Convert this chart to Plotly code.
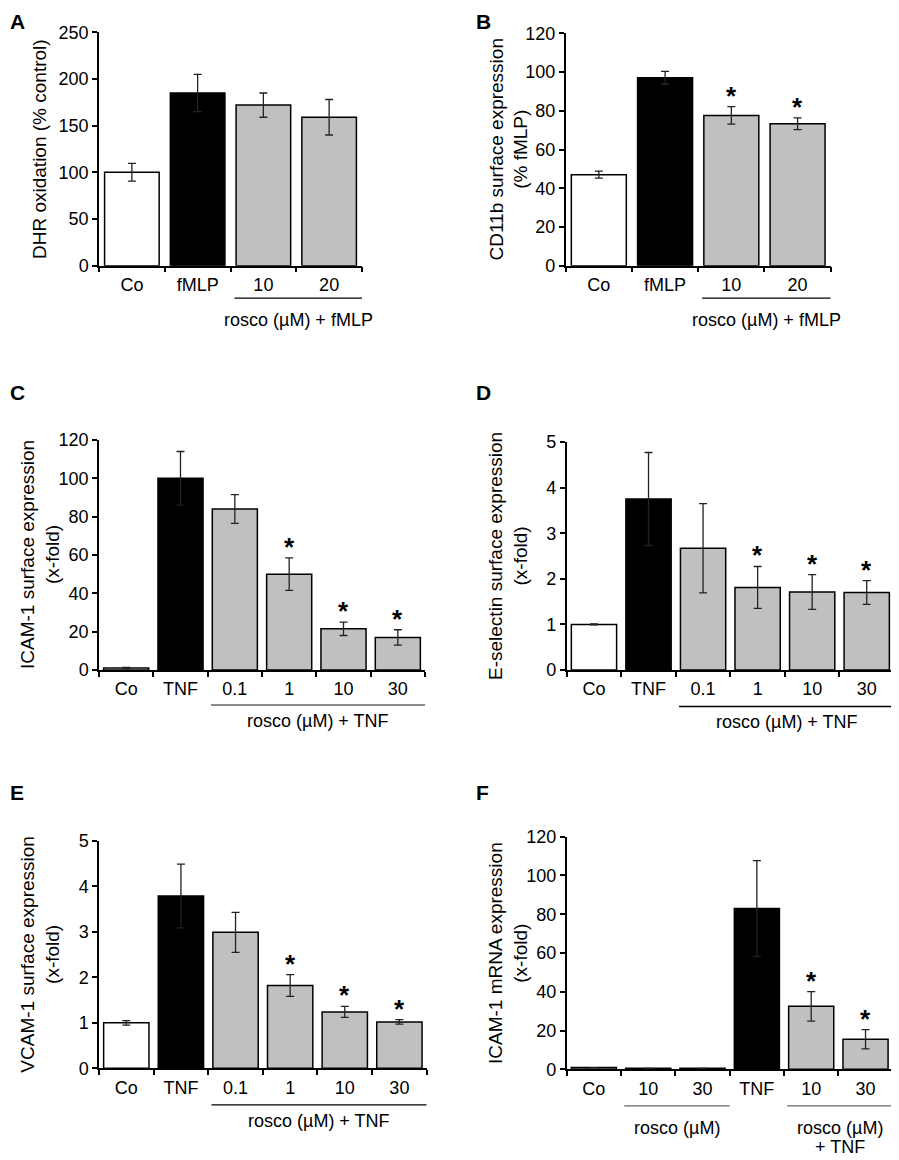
import plotly.graph_objects as go

# page is 899x1160; the html body has an 8px margin, so the figure is offset by it
PAGE_W, PAGE_H = 899, 1160
OFF = 8
W, H = PAGE_W - OFF, PAGE_H - OFF

# ---------------- data ----------------
A_labels = ["Co", "fMLP", "10", "20"]
A_values = [100, 185, 172, 159]
A_errors = [9.5, 20, 13, 19]
A_kinds = ["co", "stim", "treat", "treat"]
A_sig = [0, 0, 0, 0]

B_labels = ["Co", "fMLP", "10", "20"]
B_values = [47, 97, 77.6, 73.3]
B_errors = [1.8, 3.3, 4.5, 3.0]
B_kinds = ["co", "stim", "treat", "treat"]
B_sig = [0, 0, 1, 1]

C_labels = ["Co", "TNF", "0.1", "1", "10", "30"]
C_values = [1, 100, 84, 50, 21.5, 17]
C_errors = [0.3, 14, 7.5, 8.5, 3.5, 4]
C_kinds = ["co", "stim", "treat", "treat", "treat", "treat"]
C_sig = [0, 0, 0, 1, 1, 1]

D_labels = ["Co", "TNF", "0.1", "1", "10", "30"]
D_values = [1.0, 3.75, 2.67, 1.81, 1.71, 1.70]
D_errors = [0.01, 1.02, 0.98, 0.46, 0.38, 0.26]
D_kinds = ["co", "stim", "treat", "treat", "treat", "treat"]
D_sig = [0, 0, 0, 1, 1, 1]

E_labels = ["Co", "TNF", "0.1", "1", "10", "30"]
E_values = [1.0, 3.79, 2.99, 1.82, 1.24, 1.02]
E_errors = [0.05, 0.70, 0.44, 0.24, 0.12, 0.05]
E_kinds = ["co", "stim", "treat", "treat", "treat", "treat"]
E_sig = [0, 0, 0, 1, 1, 1]

F_labels = ["Co", "10", "30", "TNF", "10", "30"]
F_values = [0.9, 0.5, 0.5, 83, 32.5, 15.5]
F_errors = [0, 0, 0, 24.7, 7.6, 5]
F_kinds = ["co", "co", "co", "stim", "treat", "treat"]
F_sig = [0, 0, 0, 0, 1, 1]

A_title = "DHR oxidation (% control)"
B_title = "CD11b surface expression<br>(% fMLP)"
C_title = "ICAM-1 surface expression<br>(x-fold)"
D_title = "E-selectin surface expression<br>(x-fold)"
E_title = "VCAM-1 surface expression<br>(x-fold)"
F_title = "ICAM-1 mRNA expression<br>(x-fold)"

A_groups = [(2, 3, ["rosco (µM) + fMLP"])]
B_groups = [(2, 3, ["rosco (µM) + fMLP"])]
C_groups = [(2, 5, ["rosco (µM) + TNF"])]
D_groups = [(2, 5, ["rosco (µM) + TNF"])]
E_groups = [(2, 5, ["rosco (µM) + TNF"])]
F_groups = [(1, 2, ["rosco (µM)"]), (4, 5, ["rosco (µM)", "+ TNF"])]

# ---------------- styling / layout ----------------
FONT = "Liberation Sans, Arial, Helvetica, sans-serif"
KIND_COLOR = {"co": "white", "stim": "black", "treat": "#c0c0c0"}


def px_x(p):
    return (p - OFF) / W


def px_y(p):
    return 1 - (p - OFF) / H


panels = [
    ("A", A_labels, A_values, A_errors, A_kinds, A_sig, A_title, A_groups, 250, 50,
     (99, 362), (32.3, 265.7), 39, (4, 14), 32.5, 22, "black"),
    ("B", B_labels, B_values, B_errors, B_kinds, B_sig, B_title, B_groups, 120, 20,
     (565.7, 830.7), (33.3, 265.7), 508, (470, 14), 32.5, 22, "black"),
    ("C", C_labels, C_values, C_errors, C_kinds, C_sig, C_title, C_groups, 120, 20,
     (99, 425), (440, 670), 40, (4, 393), 35, 16, "#666666"),
    ("D", D_labels, D_values, D_errors, D_kinds, D_sig, D_title, D_groups, 5, 1,
     (566.7, 894), (442, 670), 508, (470, 393), 36.5, 15.5, "black"),
    ("E", E_labels, E_values, E_errors, E_kinds, E_sig, E_title, E_groups, 5, 1,
     (99, 426.7), (841, 1068.3), 40, (4, 792), 36.5, 16.5, "black"),
    ("F", F_labels, F_values, F_errors, F_kinds, F_sig, F_title, F_groups, 120, 20,
     (566.7, 892.7), (836.7, 1069.3), 508, (470, 792), 36.5, 22, "#666666"),
]

fig = go.Figure()
annotations = []
shapes = []

for k, (letter, labels, values, errors, kinds, sig, title, groups, ymax, dtick,
        xpx, ypx, tpx, lpx, uoff, loff, lcol) in enumerate(panels):
    n = len(labels)
    idx = k + 1
    xa = "x" if idx == 1 else f"x{idx}"
    ya = "y" if idx == 1 else f"y{idx}"
    xkey = "xaxis" if idx == 1 else f"xaxis{idx}"
    ykey = "yaxis" if idx == 1 else f"yaxis{idx}"
    xs = list(range(n))
    fig.add_trace(go.Bar(
        x=xs, y=values,
        marker=dict(color=[KIND_COLOR[c] for c in kinds],
                    line=dict(color="black", width=1.5)),
        error_y=dict(type="data", array=errors, visible=True,
                     color="#222222", thickness=1.3, width=4),
        xaxis=xa, yaxis=ya, showlegend=False, hoverinfo="skip",
    ))
    fig.layout[xkey] = dict(
        domain=[px_x(xpx[0]), px_x(xpx[1])],
        range=[-0.5, n - 0.5], anchor=ya, automargin=False,
        showline=True, linecolor="black", linewidth=1.5,
        showgrid=False, zeroline=False,
        tickmode="array", tickvals=xs, ticktext=labels, ticks="",
        ticklabelstandoff=2,
        tickfont=dict(family=FONT, size=18, color="black"),
        minor=dict(tickmode="array", tickvals=[i - 0.5 for i in range(n + 1)],
                   ticks="outside", ticklen=5, tickwidth=1.5, tickcolor="black",
                   showgrid=False),
        fixedrange=True,
    )
    fig.layout[ykey] = dict(
        domain=[px_y(ypx[1]), px_y(ypx[0])],
        range=[0, ymax], anchor=xa, automargin=False,
        showline=True, linecolor="black", linewidth=1.5,
        showgrid=False, zeroline=False,
        tickmode="linear", tick0=0, dtick=dtick,
        ticks="outside", ticklen=5, tickwidth=1.5, tickcolor="black",
        tickfont=dict(family=FONT, size=18, color="black"),
        fixedrange=True,
    )
    annotations.append(dict(
        text=title, textangle=-90, xref="paper", yref="paper",
        x=px_x(tpx), y=px_y((ypx[0] + ypx[1]) / 2),
        xanchor="center", yanchor="middle", showarrow=False,
        font=dict(family=FONT, size=19, color="black"),
    ))
    if lpx[1] < 30:
        ltxt = dict(y=1.0, yanchor="top")
    else:
        ltxt = dict(y=px_y(lpx[1]), yanchor="middle")
    annotations.append(dict(
        text=f"<b>{letter}</b>", xref="paper", yref="paper",
        x=px_x(lpx[0] + 4), xanchor="left",
        showarrow=False, font=dict(family=FONT, size=21, color="black"), **ltxt,
    ))
    for i in range(n):
        if sig[i]:
            annotations.append(dict(
                text="<b>*</b>", xref=xa, yref=ya,
                x=xs[i], y=values[i] + errors[i],
                xanchor="center", yanchor="bottom", yshift=-6,
                showarrow=False, font=dict(family=FONT, size=26, color="black"),
            ))
    uy_px = ypx[1] + uoff
    for (g0, g1, glines) in groups:
        x0 = g0 - 0.5 + 0.06
        x1 = g1 + 0.5
        shapes.append(dict(type="line", xref=xa, yref="paper",
                           x0=x0, x1=x1, y0=px_y(uy_px), y1=px_y(uy_px),
                           line=dict(color=lcol, width=1.3)))
        for j, gtxt in enumerate(glines):
            annotations.append(dict(
                text=gtxt, xref=xa, yref="paper", x=(x0 + x1) / 2,
                y=px_y(uy_px + loff + 19.5 * j),
                xanchor="center", yanchor="middle",
                showarrow=False, font=dict(family=FONT, size=18, color="black"),
            ))

fig.update_layout(
    width=W, height=H, autosize=False,
    margin=dict(l=0, r=0, t=0, b=0, autoexpand=False),
    paper_bgcolor="white", plot_bgcolor="white",
    bargap=0.17, showlegend=False,
    annotations=annotations, shapes=shapes,
    font=dict(family=FONT, size=18, color="black"),
)

fig.write_html("out.html")
